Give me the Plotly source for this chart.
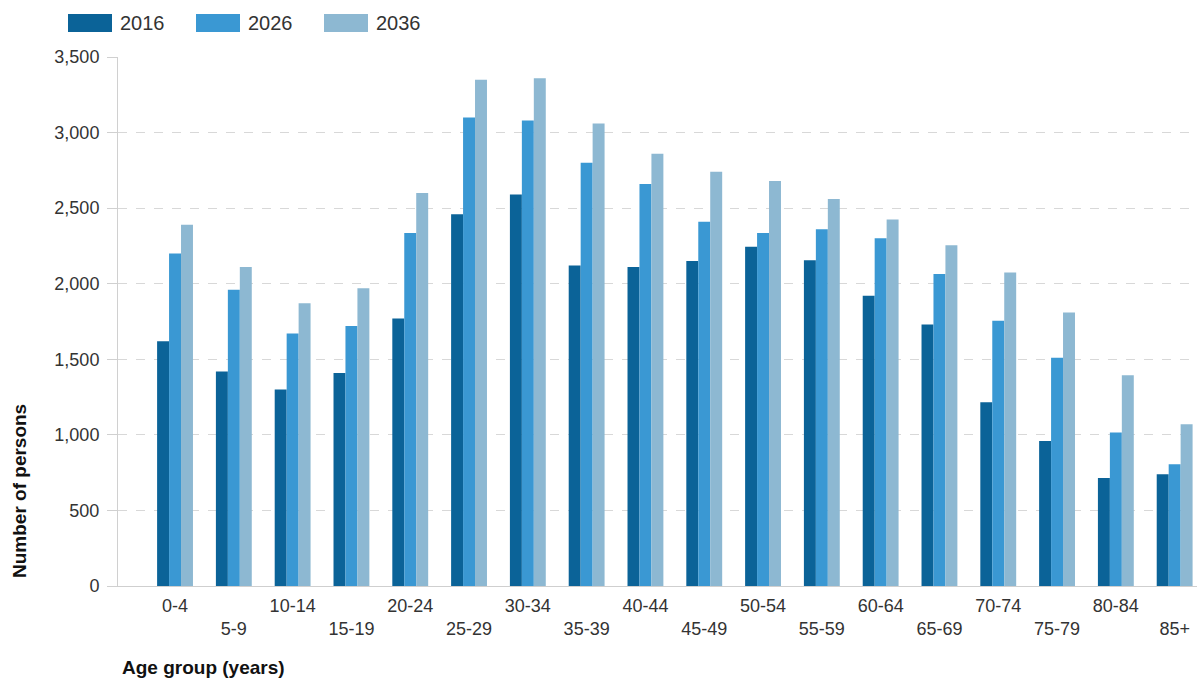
import plotly.graph_objects as go

# Projected population by five-year age group
age_groups = ["0-4", "5-9", "10-14", "15-19", "20-24", "25-29", "30-34", "35-39",
              "40-44", "45-49", "50-54", "55-59", "60-64", "65-69", "70-74",
              "75-79", "80-84", "85+"]
years = ["2016", "2026", "2036"]
pop_2016 = [1620, 1420, 1300, 1410, 1770, 2460, 2590, 2120, 2110, 2150, 2245,
            2155, 1920, 1730, 1215, 960, 715, 740]
pop_2026 = [2200, 1960, 1670, 1720, 2335, 3100, 3080, 2800, 2660, 2410, 2335,
            2360, 2300, 2065, 1755, 1510, 1015, 805]
pop_2036 = [2390, 2110, 1870, 1970, 2600, 3350, 3360, 3060, 2860, 2740, 2680,
            2560, 2425, 2255, 2075, 1810, 1395, 1070]
y_ticks = [0, 500, 1000, 1500, 2000, 2500, 3000, 3500]

colors = ["#0b6398", "#3a98d3", "#8db8d2"]
series = [pop_2016, pop_2026, pop_2036]
FONT = "Liberation Sans, Arial, sans-serif"

fig = go.Figure()
for name, vals, col in zip(years, series, colors):
    fig.add_trace(go.Bar(
        name=name, x=list(range(len(age_groups))), y=vals,
        marker=dict(color=col, line=dict(width=0)),
        showlegend=False,
    ))

# Staggered category labels: every other label drops to a second row
tick_text = [g if i % 2 == 0 else "<br>" + g for i, g in enumerate(age_groups)]

fig.update_layout(
    width=1197, height=684,
    margin=dict(l=118, r=0, t=57, b=98),
    paper_bgcolor="white", plot_bgcolor="white",
    barmode="group", bargap=0.39, bargroupgap=0,
    font=dict(family=FONT, size=18, color="#333333"),
    xaxis=dict(
        range=[-0.97, 17.38],
        tickmode="array", tickvals=list(range(len(age_groups))), ticktext=tick_text,
        tickfont=dict(size=18, color="#333333"),
        showgrid=False, zeroline=False,
        showline=True, linecolor="#cfcfcf", linewidth=1,
        ticks="", ticklabelstandoff=3,
    ),
    yaxis=dict(
        range=[0, 3500],
        tickmode="array", tickvals=y_ticks,
        ticktext=[f"{v:,}" for v in y_ticks],
        tickfont=dict(size=18, color="#333333"),
        showgrid=True, gridcolor="#d8d8d8", griddash="dash", gridwidth=1,
        zeroline=False,
        showline=True, linecolor="#d0d0d0", linewidth=1,
        ticks="outside", ticklen=10, tickcolor="#d0d0d0",
        ticklabelstandoff=4,
    ),
)

# Legend drawn as wide swatches across the top
legend_x = [68, 196, 324]
for lx, name, col in zip(legend_x, years, colors):
    fig.add_shape(type="rect", xref="paper", yref="paper",
                  x0=(lx - 118) / 1079, x1=(lx + 44 - 118) / 1079,
                  y0=(586 - 32) / 529, y1=(586 - 14) / 529,
                  fillcolor=col, line=dict(width=0))
    fig.add_annotation(text=name, xref="paper", yref="paper",
                       x=(lx + 50 - 118) / 1079, y=(586 - 23) / 529,
                       xanchor="left", yanchor="middle", showarrow=False,
                       font=dict(family=FONT, size=20, color="#333333"))

# Axis titles
fig.add_annotation(text="<b>Number of persons</b>", xref="paper", yref="paper",
                   x=(19 - 118) / 1079, y=(586 - 491) / 529,
                   textangle=-90, showarrow=False, xanchor="center", yanchor="middle",
                   font=dict(family=FONT, size=19, color="#111111"))
fig.add_annotation(text="<b>Age group (years)</b>", xref="paper", yref="paper",
                   x=(120 - 118) / 1079, y=(586 - 667) / 529,
                   showarrow=False, xanchor="left", yanchor="middle",
                   font=dict(family=FONT, size=19, color="#111111"))

fig.write_html("out.html")
